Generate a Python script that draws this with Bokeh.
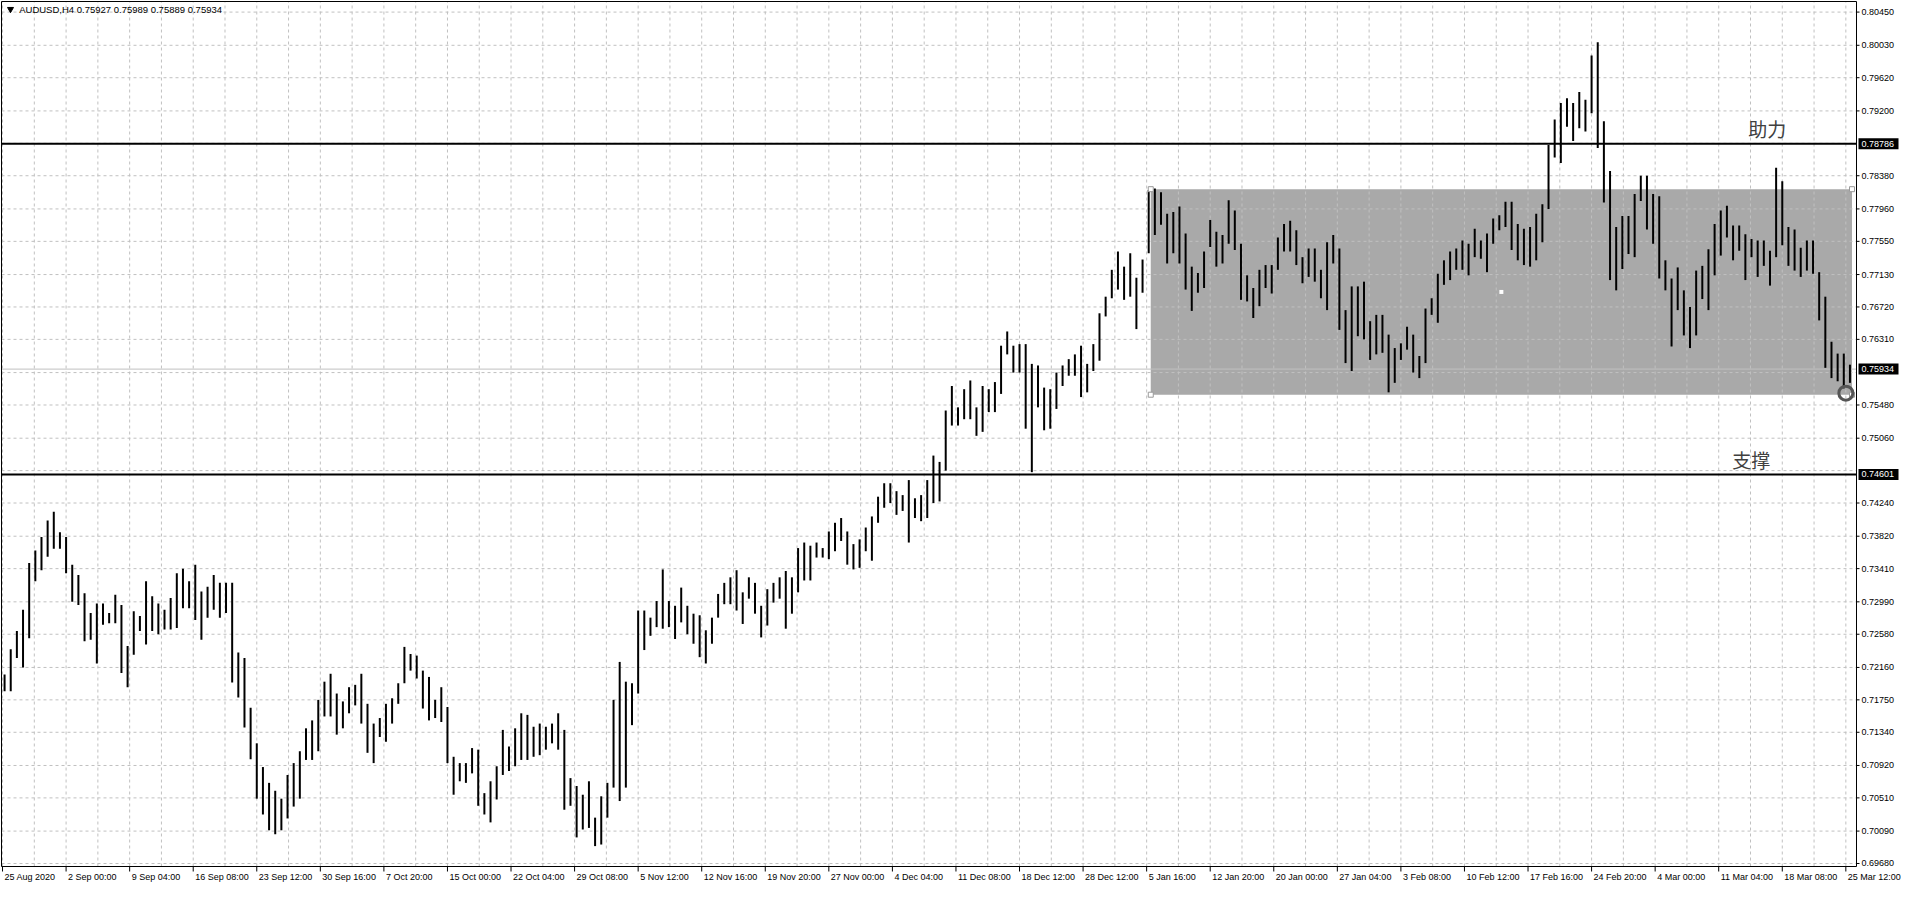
from bokeh.plotting import figure
from bokeh.models import Range1d
from bokeh.core.properties import value
from bokeh.embed import file_html
from bokeh.resources import INLINE

# ---------------- data ----------------
symbol = "AUDUSD,H4"
last_ohlc = ["0.75927", "0.75989", "0.75889", "0.75934"]
bars_per_group = 3          # each drawn bar = 3 H4 bars (12h)

hi = [
 0.7207, 0.7239, 0.7262, 0.7289, 0.7348, 0.7364, 0.7381, 0.7402, 0.7413, 0.7387,
 0.7381, 0.7346, 0.7333, 0.7310, 0.7285, 0.7297, 0.7297, 0.7285, 0.7308, 0.7295,
 0.7243, 0.7287, 0.7281, 0.7325, 0.7306, 0.7297, 0.7289, 0.7304, 0.7335, 0.7341,
 0.7325, 0.7346, 0.7312, 0.7318, 0.7333, 0.7323, 0.7323, 0.7323, 0.7235, 0.7228,
 0.7165, 0.7120, 0.7090, 0.7070, 0.7060, 0.7050, 0.7080, 0.7095, 0.7110, 0.7139,
 0.7149, 0.7175, 0.7198, 0.7208, 0.7183, 0.7173, 0.7191, 0.7194, 0.7208, 0.7170,
 0.7145, 0.7152, 0.7170, 0.7177, 0.7196, 0.7242, 0.7233, 0.7231, 0.7212, 0.7204,
 0.7175, 0.7191, 0.7166, 0.7103, 0.7095, 0.7095, 0.7114, 0.7112, 0.7057, 0.7072,
 0.7091, 0.7137, 0.7116, 0.7139, 0.7158, 0.7156, 0.7141, 0.7145, 0.7141, 0.7145,
 0.7158, 0.7137, 0.7076, 0.7066, 0.7055, 0.7072, 0.7026, 0.7053, 0.7070, 0.7175,
 0.7223, 0.7198, 0.7196, 0.7288, 0.7288, 0.7279, 0.7300, 0.7340, 0.7300, 0.7294,
 0.7317, 0.7294, 0.7284, 0.7282, 0.7263, 0.7279, 0.7309, 0.7323, 0.7330, 0.7339,
 0.7311, 0.7330, 0.7323, 0.7294, 0.7315, 0.7323, 0.7330, 0.7338, 0.7330, 0.7367,
 0.7374, 0.7370, 0.7374, 0.7367, 0.7388, 0.7399, 0.7405, 0.7388, 0.7372, 0.7378,
 0.7393, 0.7407, 0.7432, 0.7449, 0.7449, 0.7439, 0.7434, 0.7453, 0.7430, 0.7434,
 0.7453, 0.7484, 0.7476, 0.7541, 0.7572, 0.7545, 0.7568, 0.7579, 0.7545, 0.7572,
 0.7568, 0.7577, 0.7623, 0.7641, 0.7623, 0.7625, 0.7625, 0.7600, 0.7598, 0.7570,
 0.7568, 0.7589, 0.7598, 0.7606, 0.7612, 0.7623, 0.7600, 0.7625, 0.7664, 0.7685,
 0.7719, 0.7742, 0.7723, 0.7740, 0.7709, 0.7732, 0.7820, 0.7822, 0.7817, 0.7790,
 0.7792, 0.7799, 0.7765, 0.7723, 0.7715, 0.7742, 0.7782, 0.7767, 0.7763, 0.7807,
 0.7794, 0.7752, 0.7712, 0.7696, 0.7719, 0.7725, 0.7725, 0.7760, 0.7777, 0.7781,
 0.7769, 0.7735, 0.7746, 0.7746, 0.7719, 0.7754, 0.7763, 0.7746, 0.7668, 0.7698,
 0.7698, 0.7704, 0.7654, 0.7662, 0.7662, 0.7637, 0.7620, 0.7626, 0.7647, 0.7637,
 0.7610, 0.7670, 0.7683, 0.7714, 0.7731, 0.7742, 0.7746, 0.7756, 0.7752, 0.7771,
 0.7756, 0.7765, 0.7784, 0.7788, 0.7805, 0.7805, 0.7777, 0.7771, 0.7773, 0.7790,
 0.7802, 0.7877, 0.7909, 0.7930, 0.7936, 0.7930, 0.7944, 0.7934, 0.7990, 0.8007,
 0.7907, 0.7844, 0.7773, 0.7787, 0.7787, 0.7815, 0.7838, 0.7838, 0.7815, 0.7812,
 0.7731, 0.7708, 0.7722, 0.7693, 0.7672, 0.7718, 0.7724, 0.7745, 0.7777, 0.7794,
 0.7800, 0.7775, 0.7775, 0.7764, 0.7758, 0.7756, 0.7756, 0.7743, 0.7848, 0.7831,
 0.7773, 0.7770, 0.7747, 0.7756, 0.7756, 0.7716, 0.7685, 0.7628, 0.7613, 0.7613,
 0.7599]

lo = [
 0.7186, 0.7186, 0.7228, 0.7216, 0.7253, 0.7325, 0.7339, 0.7356, 0.7366, 0.7366,
 0.7335, 0.7299, 0.7295, 0.7249, 0.7251, 0.7221, 0.7270, 0.7272, 0.7272, 0.7209,
 0.7191, 0.7232, 0.7262, 0.7245, 0.7262, 0.7258, 0.7264, 0.7264, 0.7266, 0.7291,
 0.7291, 0.7276, 0.7251, 0.7279, 0.7289, 0.7279, 0.7285, 0.7197, 0.7178, 0.7140,
 0.7100, 0.7050, 0.7030, 0.7010, 0.7005, 0.7010, 0.7025, 0.7040, 0.7050, 0.7099,
 0.7099, 0.7110, 0.7154, 0.7154, 0.7131, 0.7139, 0.7158, 0.7168, 0.7145, 0.7108,
 0.7095, 0.7128, 0.7122, 0.7145, 0.7170, 0.7196, 0.7212, 0.7202, 0.7164, 0.7149,
 0.7152, 0.7147, 0.7095, 0.7055, 0.7072, 0.7070, 0.7082, 0.7041, 0.7030, 0.7020,
 0.7049, 0.7080, 0.7085, 0.7091, 0.7099, 0.7099, 0.7103, 0.7105, 0.7112, 0.7120,
 0.7112, 0.7036, 0.7041, 0.7001, 0.7011, 0.7013, 0.6990, 0.6992, 0.7026, 0.7064,
 0.7047, 0.7064, 0.7143, 0.7183, 0.7238, 0.7256, 0.7267, 0.7265, 0.7267, 0.7252,
 0.7273, 0.7258, 0.7246, 0.7229, 0.7221, 0.7246, 0.7279, 0.7296, 0.7296, 0.7288,
 0.7271, 0.7303, 0.7284, 0.7254, 0.7269, 0.7298, 0.7303, 0.7265, 0.7284, 0.7311,
 0.7326, 0.7326, 0.7355, 0.7355, 0.7353, 0.7363, 0.7376, 0.7346, 0.7340, 0.7342,
 0.7363, 0.7351, 0.7399, 0.7418, 0.7424, 0.7409, 0.7414, 0.7374, 0.7405, 0.7401,
 0.7405, 0.7424, 0.7426, 0.7465, 0.7522, 0.7522, 0.7530, 0.7530, 0.7509, 0.7514,
 0.7539, 0.7539, 0.7562, 0.7612, 0.7589, 0.7589, 0.7518, 0.7463, 0.7545, 0.7516,
 0.7518, 0.7543, 0.7572, 0.7585, 0.7585, 0.7558, 0.7564, 0.7591, 0.7604, 0.7660,
 0.7683, 0.7694, 0.7681, 0.7685, 0.7644, 0.7690, 0.7740, 0.7763, 0.7776, 0.7727,
 0.7740, 0.7727, 0.7694, 0.7667, 0.7690, 0.7696, 0.7748, 0.7723, 0.7727, 0.7752,
 0.7744, 0.7681, 0.7679, 0.7658, 0.7673, 0.7696, 0.7689, 0.7719, 0.7742, 0.7742,
 0.7725, 0.7702, 0.7710, 0.7704, 0.7683, 0.7668, 0.7727, 0.7643, 0.7601, 0.7591,
 0.7635, 0.7631, 0.7605, 0.7612, 0.7614, 0.7564, 0.7576, 0.7605, 0.7618, 0.7589,
 0.7582, 0.7601, 0.7662, 0.7652, 0.7700, 0.7706, 0.7719, 0.7719, 0.7712, 0.7735,
 0.7733, 0.7716, 0.7752, 0.7769, 0.7773, 0.7744, 0.7731, 0.7725, 0.7723, 0.7731,
 0.7754, 0.7796, 0.7861, 0.7854, 0.7900, 0.7882, 0.7898, 0.7894, 0.7917, 0.7873,
 0.7804, 0.7706, 0.7693, 0.7720, 0.7739, 0.7735, 0.7806, 0.7770, 0.7752, 0.7708,
 0.7693, 0.7622, 0.7668, 0.7636, 0.7620, 0.7636, 0.7682, 0.7668, 0.7712, 0.7737,
 0.7760, 0.7731, 0.7743, 0.7706, 0.7735, 0.7710, 0.7724, 0.7699, 0.7735, 0.7750,
 0.7724, 0.7718, 0.7710, 0.7718, 0.7714, 0.7655, 0.7595, 0.7582, 0.7578, 0.7569,
 0.7576]

time_labels = ["25 Aug 2020", "2 Sep 00:00", "9 Sep 04:00", "16 Sep 08:00", "23 Sep 12:00",
               "30 Sep 16:00", "7 Oct 20:00", "15 Oct 00:00", "22 Oct 04:00", "29 Oct 08:00",
               "5 Nov 12:00", "12 Nov 16:00", "19 Nov 20:00", "27 Nov 00:00", "4 Dec 04:00",
               "11 Dec 08:00", "18 Dec 12:00", "28 Dec 12:00", "5 Jan 16:00", "12 Jan 20:00",
               "20 Jan 00:00", "27 Jan 04:00", "3 Feb 08:00", "10 Feb 12:00", "17 Feb 16:00",
               "24 Feb 20:00", "4 Mar 00:00", "11 Mar 04:00", "18 Mar 08:00", "25 Mar 12:00"]
label_step = 31  # H4 bars between time labels

price_labels = [0.69680, 0.70090, 0.70510, 0.70920, 0.71340, 0.71750, 0.72160, 0.72580,
                0.72990, 0.73410, 0.73820, 0.74240, 0.75060, 0.75480, 0.76310, 0.76720,
                0.77130, 0.77550, 0.77960, 0.78380, 0.79200, 0.79620, 0.80030, 0.80450]
hidden_grid = [0.74650, 0.75890, 0.78790]

resistance = 0.78786
support = 0.74601
current_price = 0.75934
box_bars = [560, 902]
box_prices = [0.7561, 0.7821]
last_low_bar, last_low = 899, 0.7563
note_res, note_res_pos = "助力", (851.4, 0.7898)
note_sup, note_sup_pos = "支撑", (843.6, 0.7479)

# ---------------- geometry (pixels -> data units) ----------------
CW, CH = 1904, 884                # canvas
PL, PR, PT, PB = 1, 1856, 1, 866  # chart box in canvas pixels
XL, XR = -0.5, 904.2              # chart x bounds (bar index)
YB, YT = 0.69642, 0.80584         # chart y bounds (price)
ux = (XR - XL) / (PR - PL)
uy = (YT - YB) / (PB - PT)
x_start = XL - PL * ux
x_end = XL + (CW - PL) * ux
y_end = YT + PT * uy
y_start = YT - (CH - PT) * uy

FONT = "Liberation Sans"
AX_FS = "9px"
TITLE_FS = "9.5px"
GRID_C = "#C0C0C0"

p = figure(width=CW, height=CH, x_range=Range1d(x_start, x_end), y_range=Range1d(y_start, y_end),
           output_backend="svg", toolbar_location=None,
           min_border=0, min_border_left=0, min_border_right=0, min_border_top=0, min_border_bottom=0)
p.axis.visible = False
p.grid.visible = False
p.outline_line_color = None
p.background_fill_color = "white"
p.border_fill_color = "white"

# rectangle zone (background object)
p.quad(left=[box_bars[0]], right=[box_bars[1]], bottom=[box_prices[0]], top=[box_prices[1]],
       fill_color="#A9A9A9", line_color=None)

# grid
gx = [label_step / 2 * j for j in range(int(XR // (label_step / 2)) + 1)]
p.segment(x0=gx, y0=[YB] * len(gx), x1=gx, y1=[YT] * len(gx),
          line_color=GRID_C, line_dash="3 3", line_width=1)
gy = sorted(price_labels + hidden_grid)
p.segment(x0=[XL] * len(gy), y0=gy, x1=[XR] * len(gy), y1=gy,
          line_color=GRID_C, line_dash="3 3", line_width=1)

# current price line
p.segment(x0=[XL], y0=[current_price], x1=[XR], y1=[current_price], line_color=GRID_C, line_width=1)

# bars
xs = [bars_per_group * k + 1 for k in range(len(hi))]
p.segment(x0=xs, y0=lo, x1=xs, y1=hi, line_color="black", line_width=2)

# support / resistance
p.segment(x0=[XL, XL], y0=[resistance, support], x1=[XR, XR], y1=[resistance, support],
          line_color="black", line_width=2)

# chart border
p.quad(left=[XL], right=[XR], bottom=[YB], top=[YT], fill_color=None, line_color="black",
       line_width=1)

# right price scale
p.segment(x0=[XR] * len(price_labels), y0=price_labels, x1=[XR + 3 * ux] * len(price_labels),
          y1=price_labels, line_color="black", line_width=1)
p.text(x=[XR + 5 * ux] * len(price_labels), y=price_labels,
       text=["%.5f" % v for v in price_labels], text_font=value(FONT), text_font_size=AX_FS,
       text_baseline="middle", text_align="left", text_color="black")

# highlighted price labels
hl = [resistance, support, current_price]
p.quad(left=[XR + 2 * ux] * 3, right=[XR + 42 * ux] * 3,
       bottom=[v - 5.5 * uy for v in hl], top=[v + 5.5 * uy for v in hl],
       fill_color="black", line_color=None)
p.text(x=[XR + 5 * ux] * 3, y=hl, text=["%.5f" % v for v in hl], text_font=value(FONT),
       text_font_size=AX_FS, text_baseline="middle", text_align="left", text_color="white")

# bottom time scale
xt = [label_step * i for i in range(len(time_labels))]
p.segment(x0=xt, y0=[YB] * len(xt), x1=xt, y1=[YB - 5 * uy] * len(xt),
          line_color="black", line_width=1)
p.text(x=[t + 2 * ux for t in xt], y=[YB - 10.5 * uy] * len(xt), text=time_labels,
       text_font=value(FONT), text_font_size=AX_FS, text_baseline="middle",
       text_align="left", text_color="black")

# rectangle handles and centre point
p.scatter(x=[box_bars[0], box_bars[0], box_bars[1], box_bars[1]],
          y=[box_prices[1], box_prices[0], box_prices[1], box_prices[0]],
          marker="square", size=5, fill_color="white", line_color="#999999")
p.scatter(x=[sum(box_bars) / 2], y=[sum(box_prices) / 2], marker="square", size=4,
          fill_color="white", line_color=None)

# circle marker on last low
p.scatter(x=[last_low_bar], y=[last_low], marker="circle", size=14, fill_color=None,
          line_color="#555555", line_width=3)

# notes
p.text(x=[note_res_pos[0], note_sup_pos[0]], y=[note_res_pos[1], note_sup_pos[1]],
       text=[note_res, note_sup], text_font=value("Noto Sans CJK SC"), text_font_size="19px",
       text_color="#404040", text_baseline="middle", text_align="left")

# title inside chart
ty = YT - 7.7 * uy
p.scatter(x=[XL + 9 * ux], y=[ty], marker="inverted_triangle", size=6, color="black")
p.text(x=[XL + 17.7 * ux], y=[ty], text=[symbol + "  " + " ".join(last_ohlc)],
       text_font=value(FONT), text_font_size=TITLE_FS, text_baseline="middle",
       text_align="left", text_color="black")

open("out.html", "w").write(file_html(p, INLINE))
